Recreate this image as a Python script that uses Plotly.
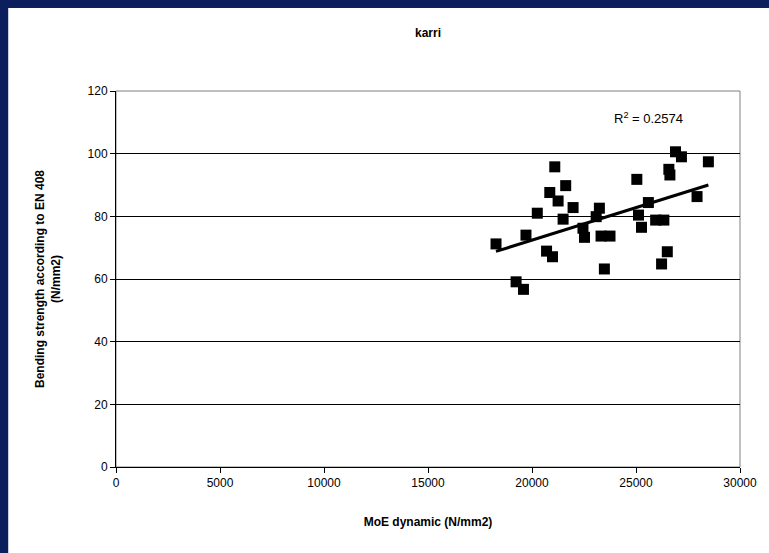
import plotly.graph_objects as go

# Data
moe = [18270, 19235, 19590, 19710, 20255, 21095, 20855, 21620, 21255, 21975,
       21495, 20700, 20985, 22450, 22525, 23240, 23085, 23320, 23750, 23480,
       25040, 25120, 25265, 25595, 25945, 26340, 26505, 26230, 26580, 26630,
       26900, 27185, 27935, 28480]
strength = [71.2, 59.1, 56.7, 74.0, 81.0, 95.8, 87.6, 89.8, 84.9, 82.8,
            79.1, 68.9, 67.1, 76.2, 73.3, 82.6, 79.9, 73.7, 73.7, 63.2,
            91.8, 80.4, 76.5, 84.4, 78.8, 78.8, 68.7, 64.8, 95.0, 93.2,
            100.6, 99.0, 86.3, 97.4]
trend_x = [18270, 28480]
trend_y = [68.8, 90.0]
r2_text = "R<sup>2</sup> = 0.2574"
x_ticks = [0, 5000, 10000, 15000, 20000, 25000, 30000]
y_ticks = [0, 20, 40, 60, 80, 100, 120]

FONT = "Arial, Liberation Sans, sans-serif"
NAVY = "#0a1f5c"

fig = go.Figure()
fig.add_trace(go.Scatter(
    x=moe, y=strength, mode="markers",
    marker=dict(symbol="square", size=11, color="black", line=dict(width=0)),
    showlegend=False, hoverinfo="x+y"))
fig.add_trace(go.Scatter(
    x=trend_x, y=trend_y, mode="lines",
    line=dict(color="black", width=3), showlegend=False, hoverinfo="skip"))

W, H = 769, 553
L, R, T, B = 116, 22, 91, 86
pw, ph = W - L - R, H - T - B

def px_x(p):
    return (p - L) / pw

def px_y(p):
    return (H - B - p) / ph

shapes = [
    # plot area border (grey top/right)
    dict(type="rect", xref="paper", yref="paper", x0=0, x1=1, y0=0, y1=1,
         line=dict(color="#808080", width=1), layer="below"),
    # navy frame top and left
    dict(type="rect", xref="paper", yref="paper", x0=px_x(-2), x1=px_x(W + 3),
         y0=px_y(7), y1=px_y(-2), fillcolor=NAVY, line=dict(width=0)),
    dict(type="rect", xref="paper", yref="paper", x0=px_x(-2), x1=px_x(7),
         y0=px_y(H + 2), y1=px_y(-2), fillcolor=NAVY, line=dict(width=0)),
    dict(type="line", xref="paper", yref="paper", x0=px_x(7), x1=px_x(W + 3),
         y0=px_y(7.5), y1=px_y(7.5), line=dict(color="#222222", width=1)),
]

fig.update_layout(
    width=W, height=H,
    margin=dict(l=L, r=R, t=T, b=B, pad=0),
    paper_bgcolor="rgba(0,0,0,0)", plot_bgcolor="white",
    font=dict(family=FONT, size=12, color="black"),
    title=dict(text="<b>karri</b>", x=0.5, xref="paper", xanchor="center",
               y=1 - 33 / H, yanchor="middle",
               font=dict(family=FONT, size=12, color="black")),
    xaxis=dict(range=[0, 30000], tickvals=x_ticks, ticktext=[str(v) for v in x_ticks],
               showgrid=False, zeroline=False, showline=True, linecolor="black",
               linewidth=1, ticks="outside", ticklen=5, tickcolor="black",
               tickfont=dict(family=FONT, size=12, color="black"),
               title=dict(text="<b>MoE dynamic (N/mm2)</b>", standoff=28,
                          font=dict(family=FONT, size=12, color="black"))),
    yaxis=dict(range=[0, 120], tickvals=y_ticks, ticktext=[str(v) for v in y_ticks],
               showgrid=True, gridcolor="black", gridwidth=1, zeroline=False,
               showline=True, linecolor="black", linewidth=1,
               ticks="outside", ticklen=5, tickcolor="black",
               tickfont=dict(family=FONT, size=12, color="black"),
               title=dict(text="<b>Bending strength according to EN 408<br>(N/mm2)</b>",
                          standoff=24,
                          font=dict(family=FONT, size=12, color="black"))),
    shapes=shapes,
    annotations=[dict(text=r2_text, x=23850, y=111.5, xref="x", yref="y",
                      xanchor="left", yanchor="middle", showarrow=False,
                      font=dict(family=FONT, size=13, color="black"))],
)

bg = ("linear-gradient(to bottom, " + NAVY + " 0px, " + NAVY + " 7px, #222222 7px, "
      "#222222 8px, rgba(0,0,0,0) 8px), linear-gradient(to right, " + NAVY + " 0px, "
      + NAVY + " 7px, #ffffff 7px)")

fig.write_html(
    "out.html", config={"displayModeBar": False},
    post_script=("document.documentElement.style.overflow='hidden';"
                 "document.body.style.overflow='hidden';"
                 "document.body.style.margin='0';document.body.style.padding='0';"
                 "document.body.style.background='" + bg + "';"))
